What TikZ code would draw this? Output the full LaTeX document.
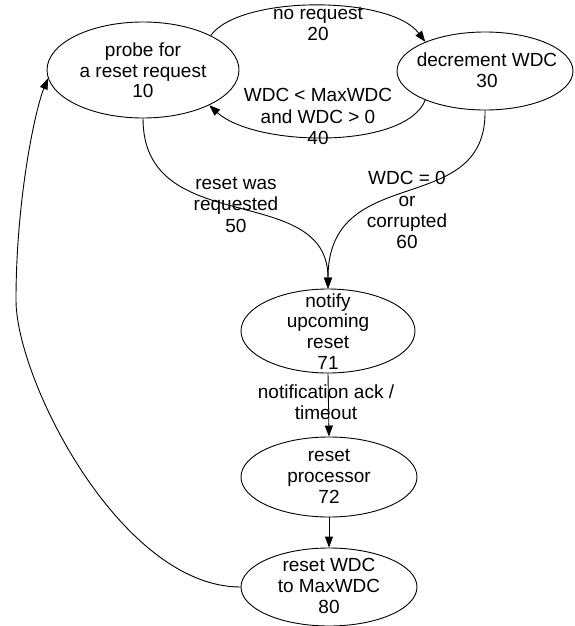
\documentclass[tikz,border=0pt]{standalone}
\usepackage{fontspec}
\setmainfont{Liberation Sans}
\usetikzlibrary{arrows.meta,shapes.geometric}
\begin{document}
\begin{tikzpicture}[x=1pt,y=-1pt,
  state/.style={draw, line width=0.9pt, ellipse, inner sep=0pt},
  stxt/.style={align=center, inner sep=0pt, font=\fontsize{19}{20.8}\selectfont},
  lbl/.style={align=center, inner sep=0pt, font=\fontsize{19}{21.4}\selectfont},
  conn/.style={line width=0.9pt, -{Triangle[length=11pt,width=8pt]}}]
\useasboundingbox (0,0) rectangle (575,626);

% states
\node[state, minimum width=192, minimum height=96] (s10) at (143,70) {};
\node[state, minimum width=176, minimum height=78] (s30) at (485,71) {};
\node[state, minimum width=174, minimum height=84] (s71) at (328,331) {};
\node[state, minimum width=176, minimum height=80] (s72) at (329,477) {};
\node[state, minimum width=176, minimum height=78] (s80) at (329,587) {};

\node[stxt] (t10) at (143,70.3) {probe for\\a reset request\\10};
\node[stxt] (t30) at (487,70.6) {decrement WDC\\30};
\node[stxt] (t71) at (328,331.5) {notify\\upcoming\\reset\\71};
\node[stxt] (t72) at (329,476.5) {reset\\processor\\72};
\node[stxt] (t80) at (329,586) {reset WDC\\to MaxWDC\\80};

% transitions
\draw[conn] (s10.27) .. controls (240,-5) and (390,-5) .. (s30.154);
\draw[conn] (s30.206) .. controls (405,150) and (255,147) .. (s10.332);
\draw[conn] (s10.south) .. controls (143,240) and (328,180) .. (s71.north);
\draw[conn] (s30.south) .. controls (487,220) and (328,160) .. (s71.north);
\draw[conn] (s71.south) -- (s72.north);
\draw[conn] (s72.south) -- (s80.north);
\draw[conn] (s80.west) .. controls (121,587) and (16,380) .. (16,300)
  .. controls (16,200) and (35,110) .. (s10.185);

% transition labels
\node[lbl] (l20) at (318,24) {no request\\20};
\node[lbl] (l40) at (318,116.7) {WDC < MaxWDC\\and WDC > 0\\40};
\node[lbl] (l50) at (236,204.6) {reset was\\requested\\50};
\node[lbl] (l60) at (407,210.2) {WDC = 0\\or\\corrupted\\60};
\node[lbl] (l71) at (326,402.5) {notification ack /\\timeout};
\end{tikzpicture}
\end{document}
